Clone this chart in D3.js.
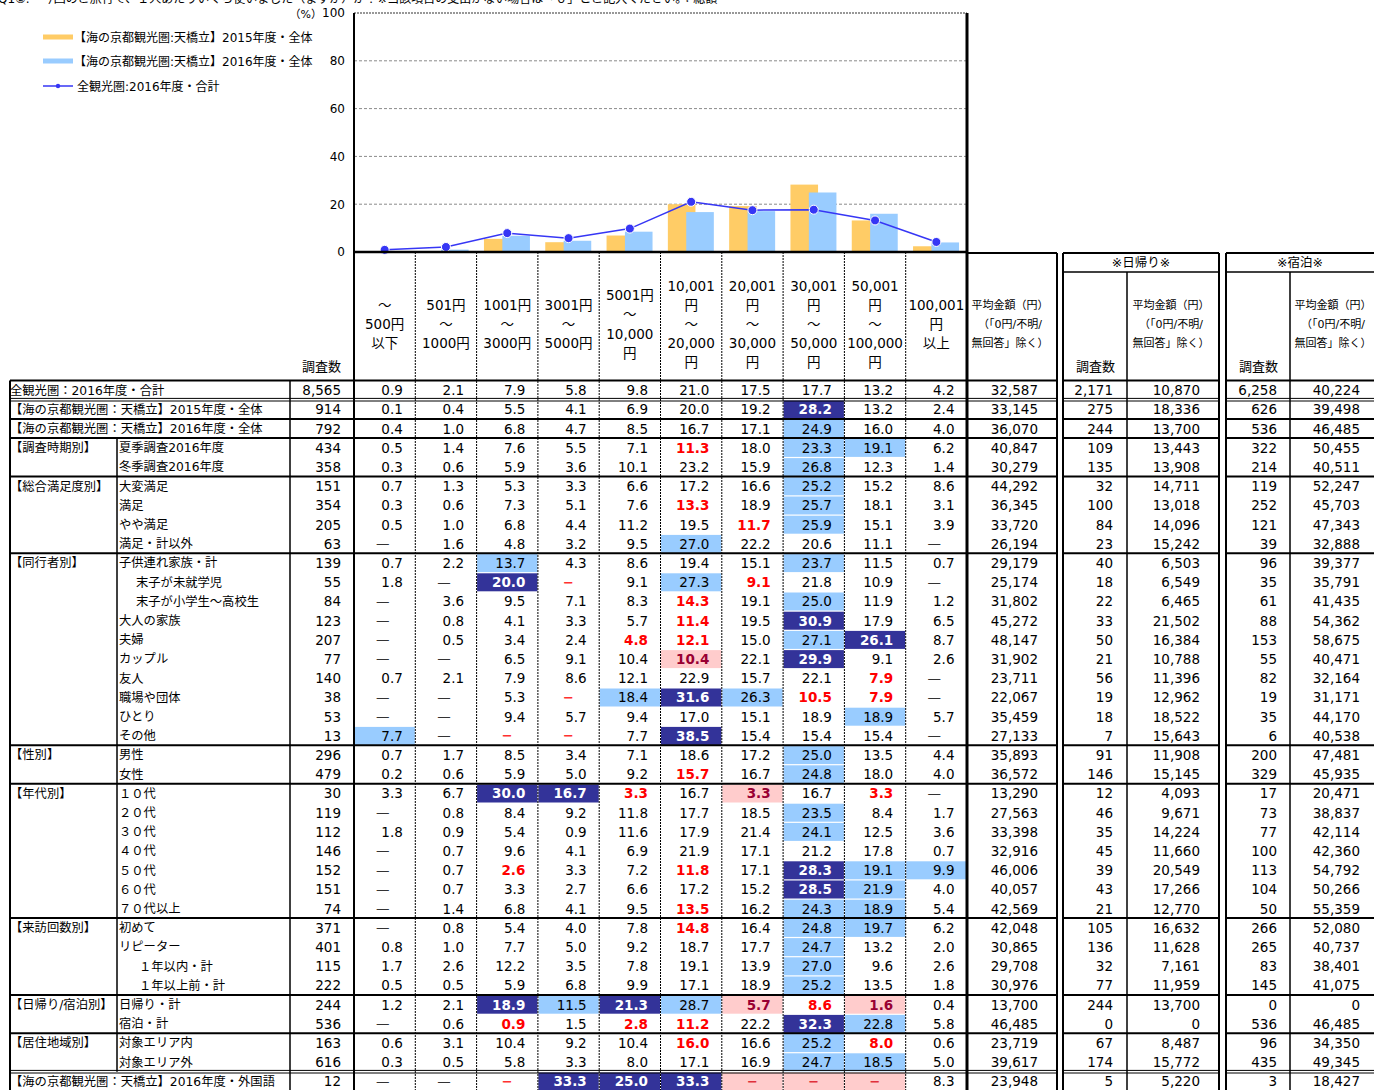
<!DOCTYPE html>
<html><head><meta charset="utf-8">
<script src="https://cdn.jsdelivr.net/npm/d3@7"></script>
<style>
body{margin:0;background:#fff;}
svg{display:block;}
text{font-family:"DejaVu Sans","Noto Sans CJK JP",sans-serif;}
</style></head><body>
<svg id="c" width="1374" height="1090"></svg>
<script>
// ---------- DATA ----------
const titleText = "Q1②.　今回のご旅行で、１人あたりいくら使いました（ますか）か？※当該項目の支出がない場合は「０」とご記入ください。：総額";
const categories = ["～\n500円\n以下","501円\n～\n1000円","1001円\n～\n3000円","3001円\n～\n5000円","5001円\n～\n10,000\n円","10,001\n円\n～\n20,000\n円","20,001\n円\n～\n30,000\n円","30,001\n円\n～\n50,000\n円","50,001\n円\n～\n100,000\n円","100,001\n円\n以上"];
const seriesNames = ["【海の京都観光圏:天橋立】2015年度・全体","【海の京都観光圏:天橋立】2016年度・全体","全観光圏:2016年度・合計"];
const series2015 = [0.1,0.4,5.5,4.1,6.9,20.0,19.2,28.2,13.2,2.4];
const series2016 = [0.4,1.0,6.8,4.7,8.5,16.7,17.1,24.9,16.0,4.0];
const seriesAll  = [0.9,2.1,7.9,5.8,9.8,21.0,17.5,17.7,13.2,4.2];
const yTicks = [0,20,40,60,80,100];
const yUnit = "（%）";

const headCount = "調査数";
const headAvg = "平均金額（円）\n（「0円/不明/\n無回答」除く）";
const headDay = "※日帰り※";
const headNight = "※宿泊※";

const rowGroups = ["全観光圏：2016年度・合計","【海の京都観光圏：天橋立】2015年度・全体","【海の京都観光圏：天橋立】2016年度・全体",
 "【調査時期別】","","【総合満足度別】","","","","【同行者別】","","","","","","","","","","【性別】","","【年代別】","","","","","","",
 "【来訪回数別】","","","","【日帰り/宿泊別】","","【居住地域別】","","【海の京都観光圏：天橋立】2016年度・外国語"];
const rowLabels = ["","","","夏季調査2016年度","冬季調査2016年度","大変満足","満足","やや満足","満足・計以外",
 "子供連れ家族・計","　末子が未就学児","　末子が小学生～高校生","大人の家族","夫婦","カップル","友人","職場や団体","ひとり","その他",
 "男性","女性","１０代","２０代","３０代","４０代","５０代","６０代","７０代以上",
 "初めて","リピーター","　１年以内・計","　１年以上前・計","日帰り・計","宿泊・計","対象エリア内","対象エリア外",""];
const counts = [8565,914,792,434,358,151,354,205,63,139,55,84,123,207,77,140,38,53,13,296,479,30,119,112,146,152,151,74,371,401,115,222,244,536,163,616,12];
const pctRows = [
 [0.9,2.1,7.9,5.8,9.8,21.0,17.5,17.7,13.2,4.2],
 [0.1,0.4,5.5,4.1,6.9,20.0,19.2,28.2,13.2,2.4],
 [0.4,1.0,6.8,4.7,8.5,16.7,17.1,24.9,16.0,4.0],
 [0.5,1.4,7.6,5.5,7.1,11.3,18.0,23.3,19.1,6.2],
 [0.3,0.6,5.9,3.6,10.1,23.2,15.9,26.8,12.3,1.4],
 [0.7,1.3,5.3,3.3,6.6,17.2,16.6,25.2,15.2,8.6],
 [0.3,0.6,7.3,5.1,7.6,13.3,18.9,25.7,18.1,3.1],
 [0.5,1.0,6.8,4.4,11.2,19.5,11.7,25.9,15.1,3.9],
 [null,1.6,4.8,3.2,9.5,27.0,22.2,20.6,11.1,null],
 [0.7,2.2,13.7,4.3,8.6,19.4,15.1,23.7,11.5,0.7],
 [1.8,null,20.0,null,9.1,27.3,9.1,21.8,10.9,null],
 [null,3.6,9.5,7.1,8.3,14.3,19.1,25.0,11.9,1.2],
 [null,0.8,4.1,3.3,5.7,11.4,19.5,30.9,17.9,6.5],
 [null,0.5,3.4,2.4,4.8,12.1,15.0,27.1,26.1,8.7],
 [null,null,6.5,9.1,10.4,10.4,22.1,29.9,9.1,2.6],
 [0.7,2.1,7.9,8.6,12.1,22.9,15.7,22.1,7.9,null],
 [null,null,5.3,null,18.4,31.6,26.3,10.5,7.9,null],
 [null,null,9.4,5.7,9.4,17.0,15.1,18.9,18.9,5.7],
 [7.7,null,null,null,7.7,38.5,15.4,15.4,15.4,null],
 [0.7,1.7,8.5,3.4,7.1,18.6,17.2,25.0,13.5,4.4],
 [0.2,0.6,5.9,5.0,9.2,15.7,16.7,24.8,18.0,4.0],
 [3.3,6.7,30.0,16.7,3.3,16.7,3.3,16.7,3.3,null],
 [null,0.8,8.4,9.2,11.8,17.7,18.5,23.5,8.4,1.7],
 [1.8,0.9,5.4,0.9,11.6,17.9,21.4,24.1,12.5,3.6],
 [null,0.7,9.6,4.1,6.9,21.9,17.1,21.2,17.8,0.7],
 [null,0.7,2.6,3.3,7.2,11.8,17.1,28.3,19.1,9.9],
 [null,0.7,3.3,2.7,6.6,17.2,15.2,28.5,21.9,4.0],
 [null,1.4,6.8,4.1,9.5,13.5,16.2,24.3,18.9,5.4],
 [null,0.8,5.4,4.0,7.8,14.8,16.4,24.8,19.7,6.2],
 [0.8,1.0,7.7,5.0,9.2,18.7,17.7,24.7,13.2,2.0],
 [1.7,2.6,12.2,3.5,7.8,19.1,13.9,27.0,9.6,2.6],
 [0.5,0.5,5.9,6.8,9.9,17.1,18.9,25.2,13.5,1.8],
 [1.2,2.1,18.9,11.5,21.3,28.7,5.7,8.6,1.6,0.4],
 [null,0.6,0.9,1.5,2.8,11.2,22.2,32.3,22.8,5.8],
 [0.6,3.1,10.4,9.2,10.4,16.0,16.6,25.2,8.0,0.6],
 [0.3,0.5,5.8,3.3,8.0,17.1,16.9,24.7,18.5,5.0],
 [null,null,null,33.3,25.0,33.3,null,null,null,8.3]
];
// significance flags: H = much higher, h = higher, l = lower, L = much lower, . = none
const pctFlags = [
 "..........",".......H..",".......h..",".....l.hh.",".......h..",
 ".......h..",".....l.h..","......lh..",".....h....",
 "..h....h..","..Hl.hl...",".....l.h..",".....l.H..","....ll.hH.",".....L.H..","........l.","...lhHhll.","........h.","h.ll.H....",
 ".......h..",".....l.h..",
 "..HHl.L.l.",".......h..",".......h..","..........","..l..l.Hhh",".......Hh.",".....l.hh.",
 ".....l.hh.",".......h..",".......h..",".......h..",
 "..HhHhLlL.","..l.ll.Hh.",".....l.hl.",".......hh.","..lHHHLLL."
];
const avgAll = [32587,33145,36070,40847,30279,44292,36345,33720,26194,29179,25174,31802,45272,48147,31902,23711,22067,35459,27133,35893,36572,13290,27563,33398,32916,46006,40057,42569,42048,30865,29708,30976,13700,46485,23719,39617,23948];
const dayCounts = [2171,275,244,109,135,32,100,84,23,40,18,22,33,50,21,56,19,18,7,91,146,12,46,35,45,39,43,21,105,136,32,77,244,0,67,174,5];
const dayAvg = [10870,18336,13700,13443,13908,14711,13018,14096,15242,6503,6549,6465,21502,16384,10788,11396,12962,18522,15643,11908,15145,4093,9671,14224,11660,20549,17266,12770,16632,11628,7161,11959,13700,0,8487,15772,5220];
const nightCounts = [6258,626,536,322,214,119,252,121,39,96,35,61,88,153,55,82,19,35,6,200,329,17,73,77,100,113,104,50,266,265,83,145,0,536,96,435,3];
const nightAvg = [40224,39498,46485,50455,40511,52247,45703,47343,32888,39377,35791,41435,54362,58675,40471,32164,31171,44170,40538,47481,45935,20471,38837,42114,42360,54792,50266,55359,52080,40737,38401,41075,0,46485,34350,49345,18427];

// ---------- LAYOUT ----------
const svg = d3.select("#c");
const plotL = 354, plotR = 967, plotT = 13, plotB = 252;
const x = d3.scaleBand().domain(d3.range(categories.length)).range([plotL, plotR]);
const bw = x.bandwidth();
const y = d3.scaleLinear().domain([0, 100]).range([plotB, plotT]);
const C15 = "#FFCC66", C16 = "#99CCFF", CL = "#3636F5";
const fmt = d3.format(",");
const CJK = "'Noto Sans CJK JP',sans-serif";

// title (clipped at top, as in the source)
svg.append("text").attr("x", -2).attr("y", 2.5).attr("font-family", CJK).attr("font-size", 12).attr("fill", "#000").text(titleText);

// grid
svg.append("g").selectAll("line").data(yTicks.filter(d => d > 0 && d < 100)).join("line")
  .attr("x1", plotL).attr("x2", plotR).attr("y1", d => y(d)).attr("y2", d => y(d))
  .attr("stroke", "#8a8a8a").attr("stroke-width", 1).attr("stroke-dasharray", "3,2");
svg.append("line").attr("x1", plotL).attr("x2", plotR).attr("y1", y(100)).attr("y2", y(100))
  .attr("stroke", "#333").attr("stroke-width", 1.2).attr("stroke-dasharray", "2,1");

// y axis labels
const ya = svg.append("g").attr("transform", `translate(${plotL},0)`)
  .call(d3.axisLeft(y).tickValues(yTicks).tickSize(0).tickPadding(9));
ya.select(".domain").remove();
ya.selectAll("text").attr("font-family", "'Liberation Sans',Arial,sans-serif").attr("font-size", 12).attr("fill", "#000");
svg.append("text").attr("x", 322).attr("y", y(100) + 5).attr("text-anchor", "end")
  .attr("font-family", CJK).attr("font-size", 11).attr("fill", "#000").text(yUnit);

// bars
svg.append("g").selectAll("rect").data(series2015).join("rect")
  .attr("x", (d, i) => x(i) + bw * 0.12).attr("width", bw * 0.45)
  .attr("y", d => y(d)).attr("height", d => y(0) - y(d)).attr("fill", C15);
svg.append("g").selectAll("rect").data(series2016).join("rect")
  .attr("x", (d, i) => x(i) + bw * 0.42).attr("width", bw * 0.45)
  .attr("y", d => y(d)).attr("height", d => y(0) - y(d)).attr("fill", C16);

// line
const line = d3.line().x((d, i) => x(i) + bw / 2).y(d => y(d));
svg.append("path").datum(seriesAll).attr("d", line).attr("fill", "none").attr("stroke", CL).attr("stroke-width", 1.5);
svg.append("g").selectAll("circle").data(seriesAll).join("circle")
  .attr("cx", (d, i) => x(i) + bw / 2).attr("cy", d => y(d)).attr("r", 4.5)
  .attr("fill", CL).attr("stroke", "#fff").attr("stroke-width", 1);

// legend
const lg = svg.append("g");
[[C15, 37], [C16, 61]].forEach(([c, yy], k) => {
  lg.append("rect").attr("x", 43).attr("y", yy - 2.5).attr("width", 30).attr("height", 5).attr("fill", c);
  lg.append("text").attr("x", 74).attr("y", yy + 4.5).attr("font-family", CJK).attr("font-size", 12).attr("fill", "#000").text(seriesNames[k]);
});
lg.append("line").attr("x1", 43).attr("x2", 73).attr("y1", 86).attr("y2", 86).attr("stroke", CL).attr("stroke-width", 1.5);
lg.append("circle").attr("cx", 58).attr("cy", 86).attr("r", 2.2).attr("fill", CL);
lg.append("text").attr("x", 77).attr("y", 90.5).attr("font-family", CJK).attr("font-size", 12).attr("fill", "#000").text(seriesNames[2]);

// ---------- TABLE ----------
const tableTop = 380.5, rowH = 19.2, tableBot = 1090;
const rowY = i => tableTop + i * rowH;
const nRows = counts.length;
const flagFill = {H: "#333399", h: "#99CCFF", L: "#FFCCCC"};
const bgG = svg.append("g"), lineG = svg.append("g"), txtG = svg.append("g");
function T(xx, yy, s, size, anchor) {
  return txtG.append("text").attr("x", xx).attr("y", yy).attr("font-size", size)
    .attr("text-anchor", anchor || "start").attr("fill", "#000").text(s);
}

// header column labels
categories.forEach((c, i) => {
  const lines = c.split("\n");
  const cx = x(i) + bw / 2;
  lines.forEach((t, k) => T(cx, 324 + (k - (lines.length - 1) / 2) * 19.2 + 5, t, 13.5, "middle"));
});
[302, 1076, 1239].forEach(xx => T(xx, 371, headCount, 13).attr("font-family", CJK));
[1010, 1171, 1333].forEach(cx => headAvg.split("\n").forEach((t, k) =>
  T(cx, 305 + k * 19.2 + 4, t, 11, "middle").attr("font-family", CJK)));
T(1141, 267, headDay, 12.5, "middle").attr("font-family", CJK);
T(1300, 267, headNight, 12.5, "middle").attr("font-family", CJK);

// rows
const numSize = 13.5;
for (let r = 0; r < nRows; r++) {
  const top = rowY(r), base = top + rowH / 2 + 5;
  if (rowLabels[r] === "") {
    T(10, base - 0.5, rowGroups[r], 12.3);
  } else {
    if (rowGroups[r]) T(10, base - 0.5, rowGroups[r], 12.3);
    const m = rowLabels[r].match(/^(　*)(.*)$/);
    const ind = m[1].length ? (/^[０-９]/.test(m[2]) ? 20 : 17) : 0;
    T(119 + ind, base - 0.5, m[2], 12.3);
  }
  T(341, base, fmt(counts[r]), numSize, "end");
  pctRows[r].forEach((v, i) => {
    const f = pctFlags[r][i];
    const x0 = x(i), x1 = x0 + bw;
    if (flagFill[f]) bgG.append("rect").attr("x", x0 + 0.5).attr("y", top + 0.8).attr("width", bw - 1).attr("height", rowH - 1.2).attr("fill", flagFill[f]);
    const col = f === "H" ? "#ffffff" : f === "l" ? "#FF0000" : f === "L" ? "#990033" : "#000000";
    const bold = f === "H" || f === "l" || f === "L";
    if (v === null) {
      if (f === ".") T(x0 + bw / 2 - 2, base - 0.5, "—", 13.5, "middle").attr("fill", "#333");
      else T(x0 + bw / 2, base - 0.5, "−", 13, "middle").attr("font-weight", "bold").attr("fill", f === "L" ? "#E0303A" : "#FF3030");
    } else {
      T(x1 - 12.5, base, v.toFixed(1), numSize, "end").attr("fill", col).attr("font-weight", bold ? "bold" : "normal");
    }
  });
  T(1038, base, fmt(avgAll[r]), numSize, "end");
  T(1113, base, fmt(dayCounts[r]), numSize, "end");
  T(1200, base, fmt(dayAvg[r]), numSize, "end");
  T(1277, base, fmt(nightCounts[r]), numSize, "end");
  T(1360, base, fmt(nightAvg[r]), numSize, "end");
}

// lines
const spans = [[10, 1057], [1063, 1219], [1226, 1374]];
function hl(x1, x2, yy, w) { lineG.append("line").attr("x1", x1).attr("x2", x2).attr("y1", yy).attr("y2", yy).attr("stroke", "#000").attr("stroke-width", w); }
function vl(xx, y1, y2, w, dash) { const l = lineG.append("line").attr("x1", xx).attr("x2", xx).attr("y1", y1).attr("y2", y2).attr("stroke", "#000").attr("stroke-width", w); if (dash) l.attr("stroke-dasharray", dash); }
spans.forEach(([a, b]) => hl(a, b, tableTop, 2));
const doubleBefore = new Set([1, nRows - 1]);
for (let r = 1; r < nRows; r++) {
  const yy = rowY(r);
  if (doubleBefore.has(r)) spans.forEach(([a, b]) => { hl(a, b, yy - 1.3, 1); hl(a, b, yy + 1.3, 1); });
  else if (rowGroups[r] !== "") spans.forEach(([a, b]) => hl(a, b, yy, 2));
}
// header boxes
hl(967, 1057, 253, 2); hl(1063, 1219, 253, 2); hl(1226, 1374, 253, 2);
hl(1063, 1219, 272, 1.5); hl(1226, 1374, 272, 1.5);
// verticals
vl(10, tableTop, tableBot, 2);
vl(117, rowY(3), rowY(nRows - 1), 1.5);
vl(290, tableTop, tableBot, 1.5);
d3.range(1, categories.length).forEach(i => vl(x(i), plotB, tableBot, 1, "2,1"));
vl(plotL, plotT, tableBot, 2);
vl(plotR, plotT, tableBot, 3);
vl(1057, 253, tableBot, 2); vl(1063, 253, tableBot, 2);
vl(1127, 272, tableBot, 1.5);
vl(1219, 253, tableBot, 2); vl(1226, 253, tableBot, 2);
vl(1290, 272, tableBot, 1.5);
// x axis line
hl(plotL, plotR, plotB, 2.5);
</script>
</body></html>
